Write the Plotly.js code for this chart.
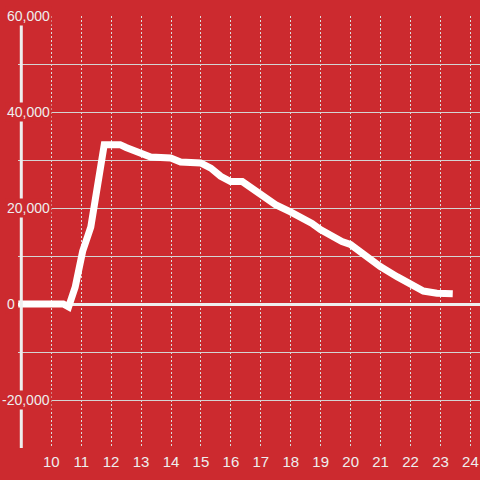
<!DOCTYPE html>
<html>
<head>
<meta charset="utf-8">
<script src="https://cdn.plot.ly/plotly-3.0.1.min.js"></script>
<style>html,body{margin:0;padding:0;background:#cc2a2f;}#chart{width:480px;height:480px;}</style>
</head>
<body>
<div id="chart"></div>
<script>
var hours = [8.9, 10.4, 10.58, 10.8, 11.05, 11.32, 11.77, 12.3, 12.5, 12.77, 13.0, 13.32, 13.99, 14.32, 14.99, 15.33, 15.66, 15.99, 16.38, 16.99, 17.49, 17.99, 18.32, 18.71, 18.99, 19.32, 19.71, 19.99, 20.43, 20.99, 21.55, 21.99, 22.43, 22.88, 23.41];
var values = [0, 0, -600, 3500, 11000, 16000, 33200, 33200, 32600, 31900, 31400, 30600, 30400, 29600, 29400, 28300, 26600, 25500, 25500, 22700, 20700, 19200, 18200, 16800, 15500, 14300, 13000, 12400, 10200, 7800, 5700, 4000, 2700, 2250, 2150];
var xTicks = [10, 11, 12, 13, 14, 15, 16, 17, 18, 19, 20, 21, 22, 23, 24];
var yTickVals = [60000, 40000, 20000, 0, -20000];
var yTickText = ["60,000", "40,000", "20,000", "0", "-20,000"];

var RED = '#cc2a2f';
var LIGHT = '#eeeeee';
var FONT = 'Liberation Sans, Arial, sans-serif';

var annotations = yTickVals.map(function (v, i) {
  return {
    xref: 'paper', yref: 'y', x: 0, y: v,
    xanchor: 'right', yanchor: 'middle', xshift: v === 0 ? -1 : 34,
    text: yTickText[i], showarrow: false,
    bgcolor: RED, borderpad: 1,
    font: {family: FONT, size: 14, color: LIGHT}
  };
});

var layout = {
  width: 480, height: 480,
  margin: {l: 18, r: 0, t: 16, b: 32},
  paper_bgcolor: RED, plot_bgcolor: RED,
  showlegend: false,
  xaxis: {
    range: [8.89, 24.32],
    tickvals: xTicks, ticktext: xTicks.map(String),
    showgrid: true, gridcolor: '#dcdcdc', gridwidth: 1, griddash: '2px,2px',
    zeroline: false, showline: false, ticks: '',
    ticklabelstandoff: 3,
    tickfont: {family: FONT, size: 15, color: LIGHT}
  },
  yaxis: {
    range: [-30000, 60000],
    tickvals: [60000, 50000, 40000, 30000, 20000, 10000, 0, -10000, -20000, -30000],
    showticklabels: false,
    showgrid: true, gridcolor: '#d4d4d4', gridwidth: 1,
    zeroline: true, zerolinecolor: LIGHT, zerolinewidth: 3,
    showline: false, ticks: ''
  },
  shapes: [{
    type: 'line', xref: 'x', yref: 'paper',
    x0: 9.0, x1: 9.0, y0: 0, y1: (448 - 24) / 432,
    line: {color: LIGHT, width: 3}, layer: 'above'
  }],
  annotations: annotations
};

Plotly.newPlot('chart', [{
  x: hours, y: values, type: 'scatter', mode: 'lines',
  line: {color: '#ffffff', width: 7},
  hoverinfo: 'skip'
}], layout, {staticPlot: true, displayModeBar: false});
</script>
</body>
</html>
